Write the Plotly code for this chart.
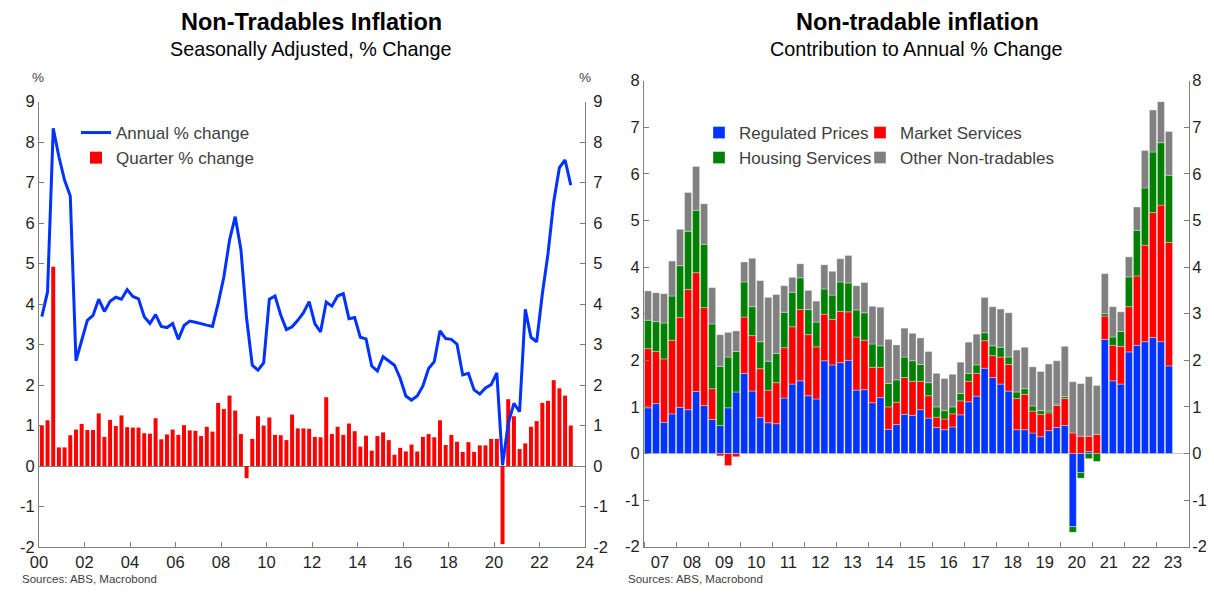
import plotly.graph_objects as go

# ---------------- data: left chart (2000Q1 - 2023Q2) ----------------
left_quarters = [f"{y}Q{q}" for y in range(2000, 2024) for q in range(1, 5)][:94]

quarter_change = [
    0.99, 1.13, 4.92, 0.46,
    0.46, 0.76, 0.90, 1.04,
    0.89, 0.89, 1.30, 0.72,
    1.14, 0.99, 1.25, 0.96,
    0.95, 0.95, 0.81, 0.80,
    1.18, 0.66, 0.78, 0.90,
    0.77, 1.01, 0.88, 0.87,
    0.74, 0.97, 0.85, 1.56,
    1.41, 1.74, 1.37, 0.79,
    -0.30, 0.67, 1.23, 1.00,
    1.20, 0.77, 0.76, 0.64,
    1.27, 0.93, 0.93, 0.92,
    0.72, 0.71, 1.70, 0.79,
    0.97, 0.77, 1.05, 0.86,
    0.48, 0.75, 0.38, 0.74,
    0.83, 0.64, 0.28, 0.45,
    0.36, 0.53, 0.36, 0.72,
    0.79, 0.71, 1.13, 0.52,
    0.77, 0.60, 0.35, 0.59,
    0.35, 0.51, 0.51, 0.67,
    0.67, -1.93, 1.65, 1.23,
    0.42, 0.56, 0.97, 1.11,
    1.56, 1.61, 2.12, 1.92,
    1.74, 1.00,
]

annual_change = [
    3.69, 4.30, 8.34, 7.64,
    7.06, 6.67, 2.60, 3.13,
    3.60, 3.72, 4.12, 3.82,
    4.07, 4.17, 4.12, 4.36,
    4.19, 4.13, 3.69, 3.52,
    3.74, 3.45, 3.42, 3.52,
    3.13, 3.47, 3.58, 3.55,
    3.51, 3.48, 3.45, 4.02,
    4.67, 5.58, 6.16, 5.35,
    3.65, 2.49, 2.37, 2.55,
    4.12, 4.20, 3.73, 3.37,
    3.44, 3.60, 3.79, 4.06,
    3.52, 3.31, 4.05, 3.95,
    4.20, 4.26, 3.64, 3.67,
    3.18, 3.14, 2.47, 2.35,
    2.70, 2.60, 2.49, 2.17,
    1.73, 1.63, 1.73, 1.98,
    2.41, 2.58, 3.34, 3.15,
    3.13, 3.01, 2.25, 2.29,
    1.88, 1.78, 1.93, 2.01,
    2.30, 0.02, 1.05, 1.55,
    1.34, 3.87, 3.18, 3.07,
    4.25, 5.25, 6.53, 7.37,
    7.56, 6.94,
]

left_tick_years = list(range(2000, 2025, 2))
left_tick_text = [f"{y % 100:02d}" for y in left_tick_years]
left_y_ticks = list(range(-2, 10))

# ---------------- data: right chart (2007Q1 - 2023Q2) ----------------
right_quarters = [f"{y}Q{q}" for y in range(2007, 2024) for q in range(1, 5)][:66]

regulated = [
    0.98, 1.07, 0.67, 0.85, 0.99, 0.94, 1.33, 1.03,
    0.73, 0.60, 0.98, 1.32, 1.72, 1.34, 0.77, 0.66,
    0.64, 1.19, 1.49, 1.56, 1.24, 1.17, 1.99, 1.90,
    1.95, 2.00, 1.36, 1.37, 1.09, 1.20, 0.52, 0.62,
    0.84, 0.82, 0.94, 0.76, 0.56, 0.51, 0.57, 0.83,
    1.11, 1.23, 1.83, 1.63, 1.49, 1.34, 0.51, 0.51,
    0.44, 0.36, 0.49, 0.56, 0.60, -1.57, -0.41, 0.04,
    0.00, 2.45, 1.56, 1.49, 2.18, 2.32, 2.40, 2.49,
    2.40, 1.88,
]
market = [
    1.27, 1.12, 1.36, 1.58, 1.93, 2.58, 2.55, 2.10,
    0.66, -0.05, -0.26, -0.07, 1.21, 1.19, 1.05, 0.70,
    0.88, 1.08, 1.23, 1.53, 1.31, 1.12, 1.00, 0.98,
    1.10, 1.04, 1.14, 1.06, 0.76, 0.65, 0.48, 0.48,
    0.79, 0.73, 0.61, 0.48, 0.22, 0.23, 0.28, 0.30,
    0.44, 0.49, 0.59, 0.47, 0.58, 0.57, 0.67, 0.76,
    0.47, 0.48, 0.38, 0.47, 0.58, 0.44, 0.37, 0.33,
    0.41, 0.50, 0.76, 0.81, 0.97, 1.49, 2.07, 2.68,
    2.93, 2.65,
]
housing = [
    0.61, 0.64, 0.77, 0.95, 1.11, 1.25, 1.34, 1.36,
    1.39, 1.27, 1.09, 0.87, 0.75, 0.62, 0.58, 0.62,
    0.63, 0.76, 0.74, 0.68, 0.54, 0.53, 0.54, 0.52,
    0.63, 0.62, 0.58, 0.59, 0.50, 0.46, 0.50, 0.48,
    0.44, 0.44, 0.36, 0.28, 0.22, 0.18, 0.15, 0.16,
    0.17, 0.18, 0.17, 0.21, 0.21, 0.16, 0.14, 0.12,
    0.11, 0.08, 0.04, 0.03, 0.04, -0.12, -0.12, -0.11,
    -0.17, 0.05, 0.18, 0.32, 0.64, 0.98, 1.23, 1.30,
    1.34, 1.44,
]
other = [
    0.63, 0.62, 0.63, 0.75, 0.78, 0.83, 0.94, 0.87,
    0.78, 0.68, 0.53, 0.44, 0.43, 1.04, 1.31, 1.37,
    1.26, 0.57, 0.32, 0.30, 0.41, 0.45, 0.52, 0.51,
    0.50, 0.59, 0.52, 0.65, 0.81, 0.83, 0.95, 0.75,
    0.62, 0.59, 0.57, 0.67, 0.72, 0.69, 0.70, 0.67,
    0.67, 0.66, 0.76, 0.84, 0.82, 0.95, 0.90, 0.89,
    0.84, 0.84, 1.01, 0.93, 1.08, 1.10, 1.13, 1.28,
    1.05, 0.86, 0.65, 0.42, 0.43, 0.50, 0.80, 0.90,
    0.88, 0.94,
]

right_years = list(range(2007, 2024))
right_tick_text = [f"{y % 100:02d}" for y in right_years]
right_y_ticks = list(range(-2, 9))


def qpos(label):
    y, q = label.split("Q")
    return int(y) + (int(q) - 1) * 0.25 + 0.125


x_left = [qpos(q) for q in left_quarters]
x_right = [qpos(q) for q in right_quarters]

# ---------------- styling ----------------
PAGE_W, PAGE_H = 1214, 594
OFF = 8  # default page body margin in the browser
W, H = PAGE_W - 2 * OFF, PAGE_H - 2 * OFF
FONT = "Liberation Sans, Arial, sans-serif"
BLUE = "#0033ff"
RED = "#ff0000"
GREEN = "#008000"
GREY = "#808080"
AXIS = "#7f7f7f"
TXT = "#1e1e1e"


def px(x):
    """page x pixel -> paper fraction"""
    return (x - OFF) / W


def py(y):
    """page y pixel -> paper fraction"""
    return 1 - (y - OFF) / H


fig = go.Figure()

fig.add_trace(go.Bar(
    x=x_left, y=quarter_change, name="Quarter % change",
    marker=dict(color=RED, line=dict(width=0)), width=0.175,
    xaxis="x", yaxis="y", legend="legend", legendrank=2,
))
fig.add_trace(go.Scatter(
    x=x_left, y=annual_change, name="Annual % change", mode="lines",
    line=dict(color=BLUE, width=3), xaxis="x", yaxis="y",
    legend="legend", legendrank=1,
))
# invisible twin so the right-hand axis of the left chart is drawn
fig.add_trace(go.Scatter(
    x=x_left, y=annual_change, mode="lines", line=dict(width=0, color="rgba(0,0,0,0)"),
    xaxis="x", yaxis="y2", showlegend=False, hoverinfo="skip",
))

for name, vals, col, leg in [
    ("Regulated Prices", regulated, BLUE, "legend2"),
    ("Market Services", market, RED, "legend3"),
    ("Housing Services", housing, GREEN, "legend4"),
    ("Other Non-tradables", other, GREY, "legend5"),
]:
    fig.add_trace(go.Bar(
        x=x_right, y=vals, name=name, width=0.22,
        marker=dict(color=col, line=dict(color="rgba(255,255,255,0.7)", width=0.5)),
        xaxis="x3", yaxis="y3", legend=leg,
    ))
# invisible twin so the right-hand axis of the right chart is drawn
fig.add_trace(go.Scatter(
    x=x_right, y=regulated, mode="lines", line=dict(width=0, color="rgba(0,0,0,0)"),
    xaxis="x3", yaxis="y4", showlegend=False, hoverinfo="skip",
))

tickfont = dict(family=FONT, size=16.5, color=TXT)

common_y = dict(
    showgrid=False, showline=True, linecolor=AXIS, linewidth=1,
    ticks="inside", ticklen=5, tickcolor=AXIS, tickfont=tickfont,
    tickmode="array", fixedrange=True, automargin=False,
)
left_y = dict(tickvals=left_y_ticks, ticktext=[str(v) for v in left_y_ticks], **common_y)
right_y = dict(tickvals=right_y_ticks, ticktext=[str(v) for v in right_y_ticks], **common_y)

legfont = dict(family=FONT, size=17, color="#404040")


def leg(xpage, ypage):
    return dict(
        x=px(xpage), y=py(ypage), xanchor="left", yanchor="top",
        bgcolor="rgba(0,0,0,0)", font=legfont, tracegroupgap=0, itemwidth=30,
    )


fig.update_layout(
    width=W, height=H,
    margin=dict(l=0, r=0, t=0, b=0, autoexpand=False),
    paper_bgcolor="white", plot_bgcolor="white",
    barmode="relative",
    font=dict(family=FONT, color=TXT),
    xaxis=dict(
        domain=[px(39), px(585)], range=[2000, 2024], anchor="y",
        tickmode="array", tickvals=left_tick_years, ticktext=left_tick_text,
        showgrid=False, zeroline=False, showline=True, linecolor=AXIS,
        ticks="inside", ticklen=5, tickcolor=AXIS, tickfont=tickfont, automargin=False,
    ),
    yaxis=dict(
        domain=[py(547), py(101.7)], range=[-2, 9], anchor="x", side="left",
        zeroline=True, zerolinecolor=AXIS, zerolinewidth=1, **left_y,
    ),
    yaxis2=dict(
        domain=[py(547), py(101.7)], range=[-2, 9], anchor="x",
        overlaying="y", side="right", zeroline=False, ticklabelstandoff=4, **left_y,
    ),
    xaxis3=dict(
        domain=[px(644), px(1189)], range=[2007, 2024], anchor="y3",
        tickmode="array", tickvals=[y + 0.5 for y in right_years], ticktext=right_tick_text,
        showgrid=False, zeroline=False, showline=True, linecolor=AXIS,
        ticks="", tickfont=tickfont, automargin=False,
        minor=dict(ticks="inside", ticklen=5, tickcolor=AXIS, tick0=2007, dtick=1, showgrid=False),
    ),
    yaxis3=dict(
        domain=[py(546.7), py(80.7)], range=[-2, 8], anchor="x3", side="left",
        zeroline=True, zerolinecolor="#c8c8c8", zerolinewidth=1, **right_y,
    ),
    yaxis4=dict(
        domain=[py(546.7), py(80.7)], range=[-2, 8], anchor="x3",
        overlaying="y3", side="right", zeroline=False, ticklabelstandoff=-1, **right_y,
    ),
    legend=leg(76, 115),
    legend2=leg(699, 115),
    legend3=leg(860, 115),
    legend4=leg(699, 140),
    legend5=leg(860, 140),
    showlegend=True,
)

ann = [
    dict(text="<b>Non-Tradables Inflation</b>", x=px(311), y=py(22), size=23.5, color="black"),
    dict(text="Seasonally Adjusted, % Change", x=px(311), y=py(49), size=19.8, color="black"),
    dict(text="<b>Non-tradable inflation</b>", x=px(917), y=py(22), size=23.5, color="black"),
    dict(text="Contribution to Annual % Change", x=px(916), y=py(49), size=19.8, color="black"),
]
for a in ann:
    fig.add_annotation(
        text=a["text"], x=a["x"], y=a["y"], xref="paper", yref="paper",
        xanchor="center", yanchor="middle", showarrow=False,
        font=dict(family=FONT, size=a["size"], color=a["color"]),
    )

for xx in (38, 585):
    fig.add_annotation(
        text="%", x=px(xx), y=py(78), xref="paper", yref="paper",
        xanchor="center", yanchor="middle", showarrow=False,
        font=dict(family=FONT, size=13.5, color="#404040"),
    )

for xx in (20, 626):
    fig.add_annotation(
        text="Sources: ABS, Macrobond", x=px(xx), y=py(579), xref="paper", yref="paper",
        xanchor="left", yanchor="middle", showarrow=False,
        font=dict(family=FONT, size=11.5, color="#404040"),
    )

fig.write_html("out.html")
